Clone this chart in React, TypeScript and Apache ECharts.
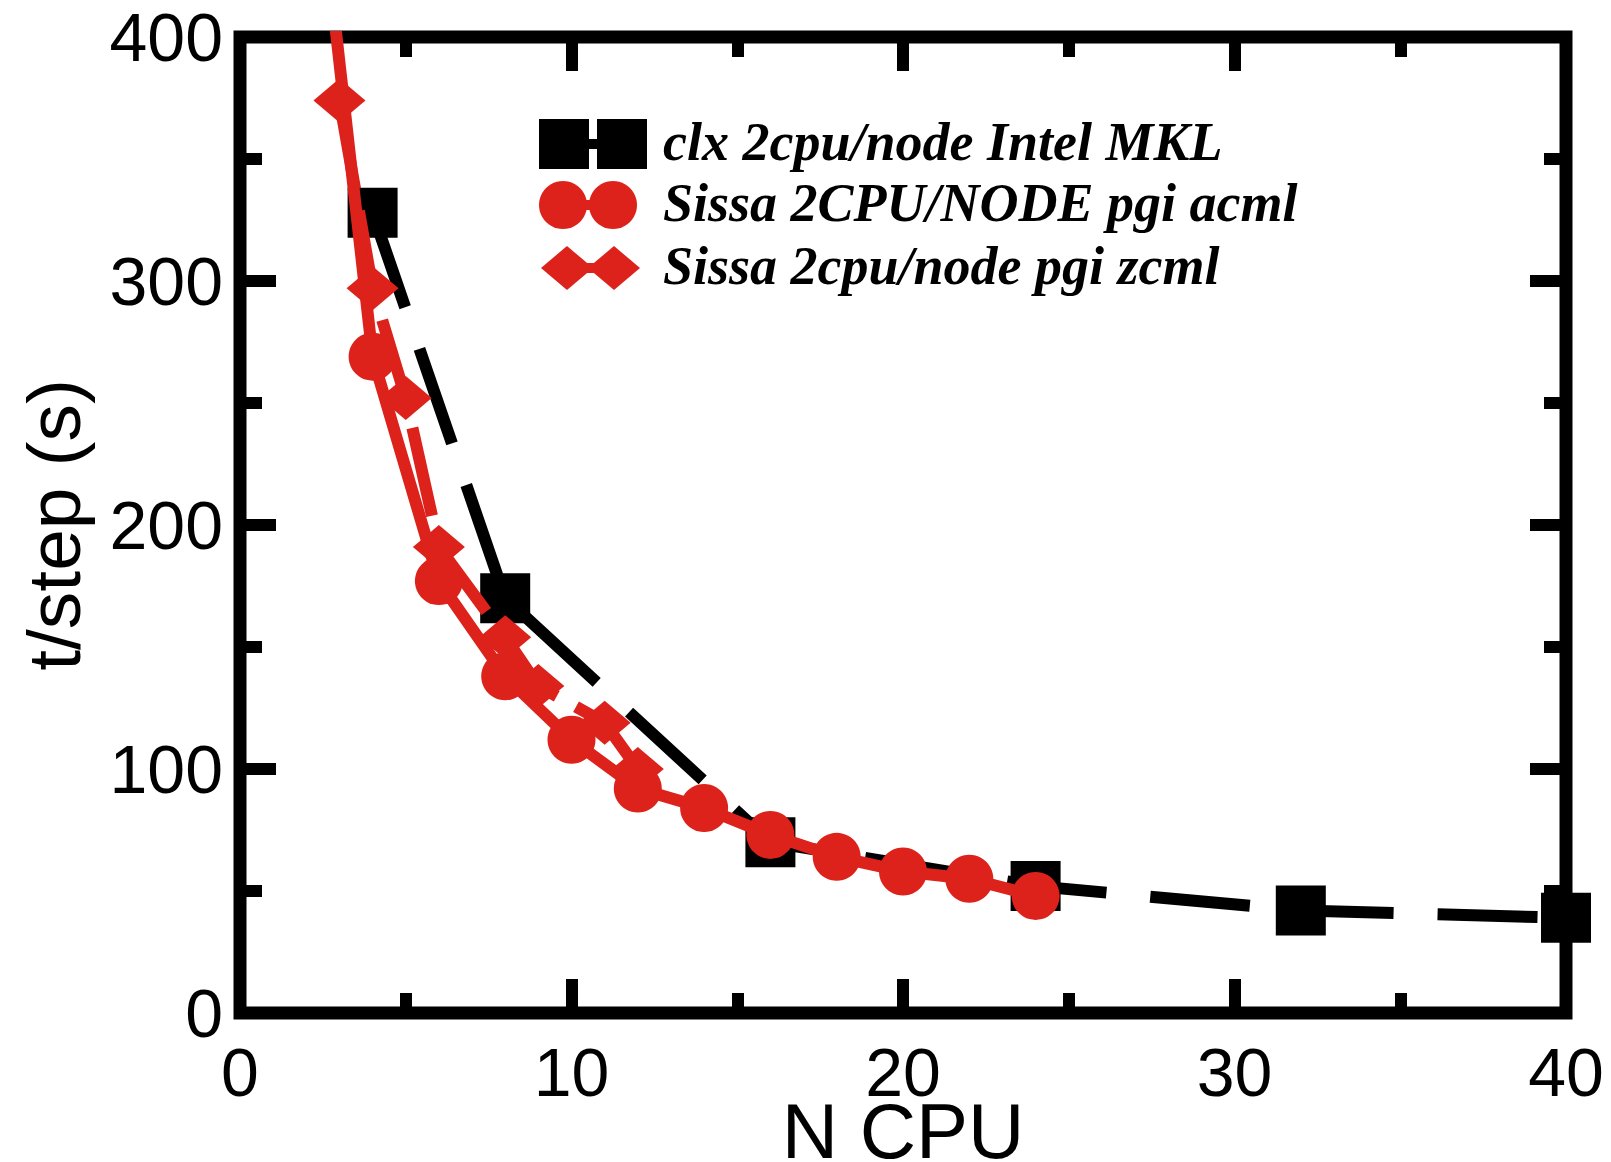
import React, { useEffect, useRef } from "react";
import * as echarts from "echarts";

// ---- data ----
const seriesNames = [
  "clx 2cpu/node Intel MKL",
  "Sissa 2CPU/NODE pgi acml",
  "Sissa 2cpu/node pgi zcml",
];
const clxX = [4, 8, 16, 24, 32, 40];
const clxY = [328, 170, 70, 52, 42, 39];
const acmlX = [2, 4, 6, 8, 10, 12, 14, 16, 18, 20, 22, 24];
const acmlY = [510, 269, 177, 138, 112, 92, 84, 73, 64, 58, 55, 48];
const zcmlX = [3, 4, 5, 6, 8, 9, 11, 12];
const zcmlY = [374, 297, 252, 191, 154, 134, 119, 100];

const xMin = 0;
const xMax = 40;
const xStep = 10;
const yMin = 0;
const yMax = 400;
const yStep = 100;
const xName = "N CPU";
const yName = "t/step (s)";

const RED = "#dc221b";
const SANS = "'Liberation Sans', Arial, Helvetica, sans-serif";
const SERIF = "'Liberation Serif', 'Times New Roman', serif";

const zip = (xs: number[], ys: number[]) => xs.map((x, i) => [x, ys[i]]);

function makeXAxis(pos: "bottom" | "top", main: boolean) {
  return {
    type: "value",
    position: pos,
    min: xMin,
    max: xMax,
    interval: xStep,
    axisLine: { show: false, onZero: false },
    splitLine: { show: false },
    minorSplitLine: { show: false },
    axisTick: { show: true, inside: true, length: 34, lineStyle: { color: "#000", width: 12 } },
    minorTick: { show: true, splitNumber: 2, length: 20, lineStyle: { color: "#000", width: 12 } },
    axisLabel: {
      show: main,
      margin: 31,
      lineHeight: 56,
      color: "#000",
      fontSize: 68,
      fontFamily: SANS,
    },
    name: main ? xName : "",
    nameLocation: "middle",
    nameGap: 88,
    nameMoveOverlap: false,
    nameTextStyle: { color: "#000", fontSize: 78, lineHeight: 60, fontFamily: SANS },
  };
}

function makeYAxis(pos: "left" | "right", main: boolean) {
  return {
    type: "value",
    position: pos,
    min: yMin,
    max: yMax,
    interval: yStep,
    axisLine: { show: false, onZero: false },
    splitLine: { show: false },
    minorSplitLine: { show: false },
    axisTick: { show: true, inside: true, length: 36, lineStyle: { color: "#000", width: 12 } },
    minorTick: { show: true, splitNumber: 2, length: 22, lineStyle: { color: "#000", width: 12 } },
    axisLabel: {
      show: main,
      margin: 17,
      color: "#000",
      fontSize: 68,
      fontFamily: SANS,
    },
    name: main ? yName : "",
    nameLocation: "middle",
    nameGap: 149,
    nameMoveOverlap: false,
    nameTextStyle: { color: "#000", fontSize: 75, fontFamily: SANS },
  };
}

function legendGraphics() {
  const textX = 663;
  const rows = [144, 205, 268];
  const els: any[] = [];
  // row 1: squares
  els.push({ type: "rect", shape: { x: 539, y: rows[0] - 25, width: 50, height: 50 }, style: { fill: "#000" } });
  els.push({ type: "rect", shape: { x: 597, y: rows[0] - 25, width: 50, height: 50 }, style: { fill: "#000" } });
  els.push({ type: "line", shape: { x1: 585, y1: rows[0], x2: 601, y2: rows[0] }, style: { stroke: "#000", lineWidth: 10 } });
  // row 2: circles
  els.push({ type: "line", shape: { x1: 563, y1: rows[1], x2: 613, y2: rows[1] }, style: { stroke: RED, lineWidth: 10 } });
  els.push({ type: "circle", shape: { cx: 563, cy: rows[1], r: 24 }, style: { fill: RED } });
  els.push({ type: "circle", shape: { cx: 613, cy: rows[1], r: 24 }, style: { fill: RED } });
  // row 3: diamonds
  els.push({ type: "line", shape: { x1: 567, y1: rows[2], x2: 614, y2: rows[2] }, style: { stroke: RED, lineWidth: 10 } });
  const dia = (cx: number, cy: number) => ({
    type: "polygon",
    shape: { points: [[cx, cy - 22], [cx + 26, cy], [cx, cy + 22], [cx - 26, cy]] },
    style: { fill: RED },
  });
  els.push(dia(567, rows[2]));
  els.push(dia(614, rows[2]));
  seriesNames.forEach((name, i) => {
    els.push({
      type: "text",
      x: textX,
      y: rows[i] - 2,
      style: {
        text: name,
        fill: "#000",
        font: `italic bold 54px ${SERIF}`,
        textAlign: "left",
        textVerticalAlign: "middle",
      },
    });
  });
  return els;
}

export default function App() {
  const ref = useRef<HTMLDivElement>(null);
  useEffect(() => {
    if (!ref.current) return;
    const chart = echarts.init(ref.current, null, { renderer: "svg" });
    chart.setOption({
      animation: false,
      backgroundColor: "#fff",
      grid: {
        left: 240,
        top: 37,
        right: 45,
        bottom: 149,
        show: true,
        borderWidth: 13,
        borderColor: "#000",
        backgroundColor: "transparent",
        containLabel: false,
        outerBoundsMode: "none",
      },
      xAxis: [makeXAxis("bottom", true), makeXAxis("top", false)],
      yAxis: [makeYAxis("left", true), makeYAxis("right", false)],
      series: [
        {
          name: seriesNames[0],
          type: "line",
          xAxisIndex: 0,
          yAxisIndex: 0,
          data: zip(clxX, clxY),
          symbol: "rect",
          symbolSize: 50,
          clip: false,
          z: 2,
          itemStyle: { color: "#000" },
          lineStyle: { color: "#000", width: 12, type: [100, 44], cap: "butt" },
          emphasis: { disabled: true },
        },
        {
          name: seriesNames[2],
          type: "line",
          xAxisIndex: 0,
          yAxisIndex: 0,
          data: zip(zcmlX, zcmlY),
          symbol: "diamond",
          symbolSize: [52, 44],
          clip: true,
          z: 3,
          itemStyle: { color: RED },
          lineStyle: { color: RED, width: 12, type: [90, 22], cap: "butt" },
          emphasis: { disabled: true },
        },
        {
          name: seriesNames[1],
          type: "line",
          xAxisIndex: 0,
          yAxisIndex: 0,
          data: zip(acmlX, acmlY),
          symbol: "circle",
          symbolSize: 48,
          clip: true,
          z: 4,
          itemStyle: { color: RED },
          lineStyle: { color: RED, width: 12, type: "solid", cap: "butt" },
          emphasis: { disabled: true },
        },
      ],
      graphic: legendGraphics(),
    });
    return () => chart.dispose();
  }, []);
  return (
    <div
      ref={ref}
      style={{ position: "fixed", left: 0, top: 0, width: 1611, height: 1162, background: "#fff" }}
    />
  );
}
